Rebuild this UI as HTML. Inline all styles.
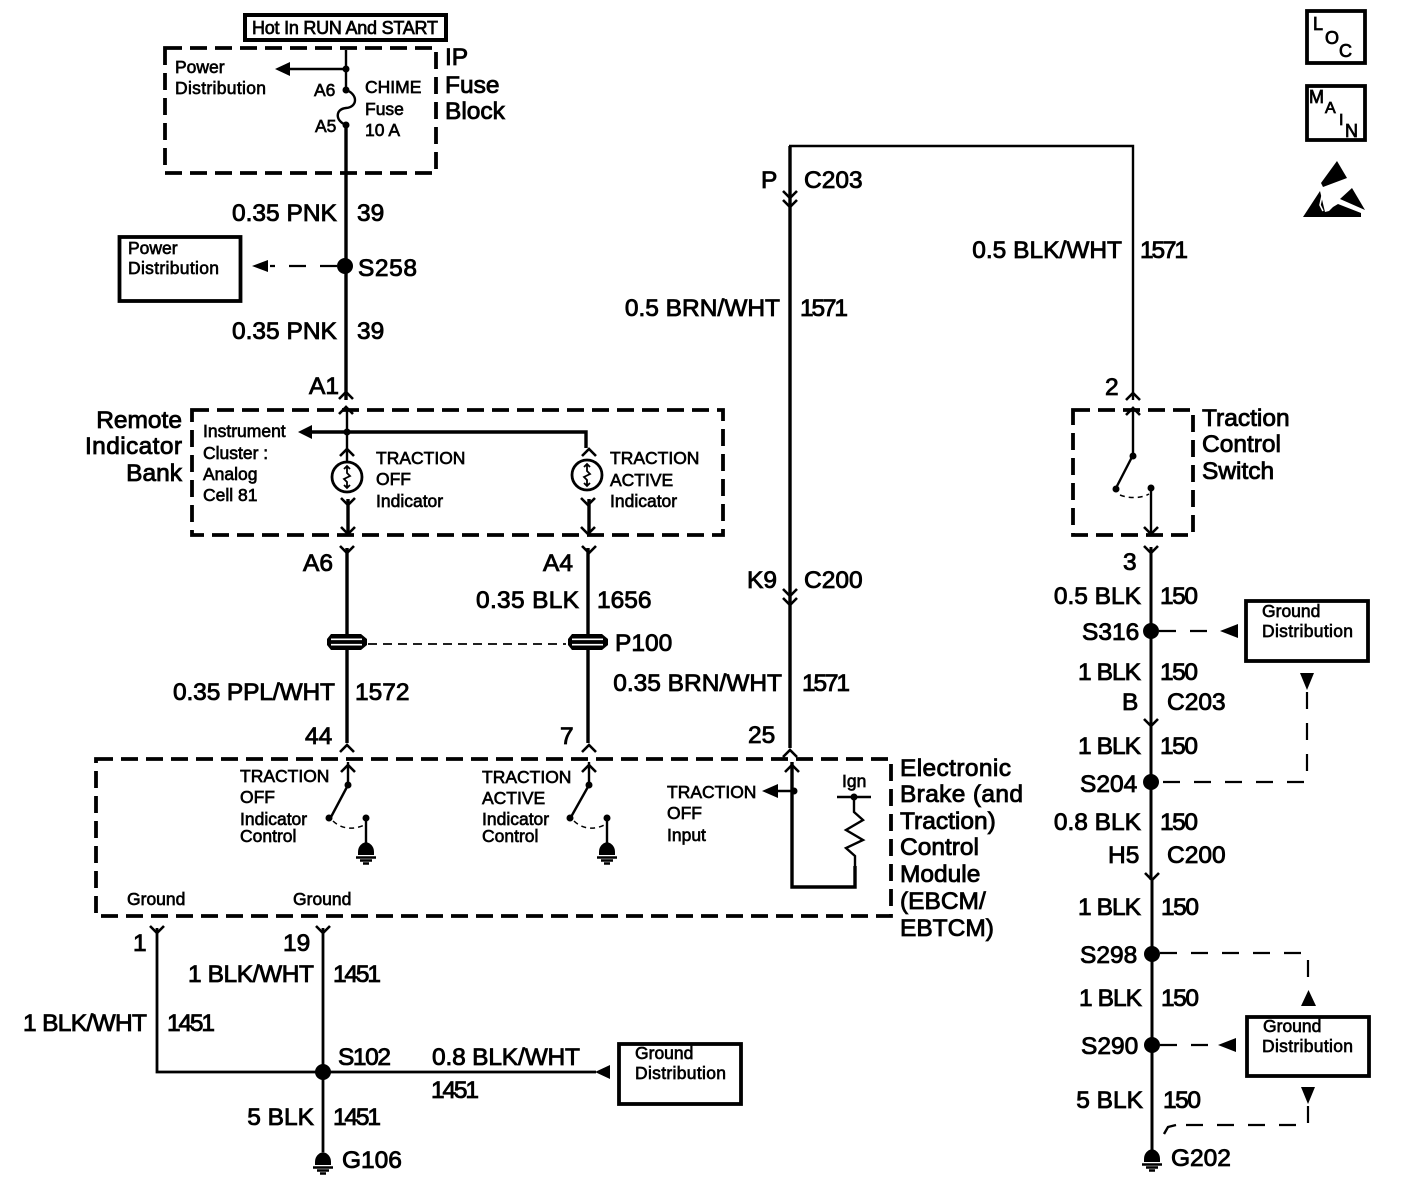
<!DOCTYPE html>
<html><head><meta charset="utf-8"><style>
html,body{margin:0;padding:0;background:#fff}
svg{display:block}
text{font-family:"Liberation Sans",sans-serif;fill:#000}
.L{font-size:24.5px;stroke:#000;stroke-width:.85px}
.S{font-size:17.5px;stroke:#000;stroke-width:.65px}
.R{text-anchor:end}
.w{fill:none;stroke:#000;stroke-width:3.4}
.t{fill:none;stroke:#000;stroke-width:2.4}
.d{fill:none;stroke:#000;stroke-width:3.8;stroke-dasharray:17 8}
.a{fill:none;stroke:#000;stroke-width:2.2;stroke-dasharray:17 14}
.n{fill:none;stroke:#000;stroke-width:1.5;stroke-dasharray:5 4}
.b{fill:#fff;stroke:#000;stroke-width:3.8}
</style></head><body>
<svg width="1408" height="1180" viewBox="0 0 1408 1180" xmlns="http://www.w3.org/2000/svg">
<defs>
<path id="dn" d="M-7,-7 L0,0 L7,-7" fill="none" stroke="#000" stroke-width="2.6"/>
<path id="up" d="M-7,7 L0,0 L7,7" fill="none" stroke="#000" stroke-width="2.6"/>
<g id="gnd"><path d="M-8,0 C-8,-6 -4,-9 0,-10 C4,-9 8,-6 8,0 L8,3 L-8,3Z" fill="#000"/><path d="M-10,5.5H10M-6,8.5H6M-3,11.5H3" stroke="#000" stroke-width="2.4" fill="none"/></g>
<g id="ind"><circle cx="0" cy="0" r="15" fill="none" stroke="#000" stroke-width="2.8"/><path d="M0,-11V-4L3,-1L-3,2L0,5V11M-3,-8L0,-11L3,-8M-3,8L0,11L3,8" fill="none" stroke="#000" stroke-width="1.8"/></g>
<g id="spl"><path d="M-16,-8H14L20,-3V3L14,8H-16L-20,3V-3Z" fill="#000"/><path d="M-16,-2.700H15M-16,2.700H15" stroke="#fff" stroke-width="1.6"/></g>
</defs>

<!-- dashed boxes -->
<rect x="165" y="48" width="271" height="125" class="d"/>
<rect x="192" y="410" width="531" height="125" class="d"/>
<rect x="96" y="759" width="795" height="157" class="d"/>
<rect x="1073" y="410" width="120" height="125" class="d"/>

<!-- hot box -->
<rect x="245" y="15" width="201" height="25" fill="#fff" stroke="#000" stroke-width="4"/>
<text x="252" y="34" style="font-size:18px;stroke:#000;stroke-width:.7px" textLength="186">Hot In RUN And START</text>

<!-- IP fuse block wiring -->
<path class="t" d="M346,50V90"/>
<path d="M346,69H288" class="t"/>
<path d="M275,69L290,62V76Z"/>
<circle cx="346" cy="69" r="3.5"/><circle cx="346" cy="90" r="3.5"/><circle cx="346" cy="125" r="3.5"/>
<path class="t" d="M346,90C358,94 358,107 346,108C335,109 335,121 346,125"/>
<path class="w" d="M346,125V400"/>
<circle cx="345" cy="266" r="8"/>
<path class="a" d="M337,266H270"/>
<path d="M252,266L268,260V272Z"/>
<rect x="119.500" y="237" width="121" height="64" class="b"/>
<use href="#up" x="346" y="392"/>
<use href="#up" x="346" y="407"/>

<!-- remote indicator wiring -->
<path class="t" d="M347,408V462"/>
<path d="M310,432H586V448" fill="none" stroke="#000" stroke-width="3.4"/>
<path d="M298,432L312,425V439Z"/>
<circle cx="347" cy="432" r="3.5"/>
<use href="#up" x="347" y="449"/>
<use href="#up" x="589" y="449"/>
<use href="#ind" x="347" y="477"/>
<use href="#ind" x="587" y="475"/>
<path class="w" d="M348,499V534M589,499V534"/>
<use href="#dn" x="348" y="505"/><use href="#dn" x="588" y="505"/>
<use href="#dn" x="348" y="534"/><use href="#dn" x="588" y="534"/>
<use href="#dn" x="347" y="553"/><use href="#dn" x="589" y="553"/>
<path class="w" d="M347,548V743M588,548V743"/>
<use href="#spl" x="347" y="642"/><use href="#spl" x="588" y="642"/>
<path class="t" style="stroke-width:1.8;stroke-dasharray:9 6" d="M368,644H566"/>
<use href="#up" x="347" y="745"/><use href="#up" x="589" y="745"/>

<!-- EBCM internals -->
<path class="t" d="M348,762V785"/><use href="#up" x="348" y="765"/>
<circle cx="348" cy="785" r="3.5"/>
<path class="t" d="M348,785L331,817"/><circle cx="329" cy="818" r="3.5"/>
<path class="n" d="M333,821C342,830 356,830 366,824"/>
<circle cx="366" cy="818" r="3.5"/>
<path class="t" d="M366,818V845"/><use href="#gnd" x="366" y="852"/>
<path class="t" d="M589,762V785"/><use href="#up" x="589" y="765"/>
<circle cx="589" cy="785" r="3.5"/>
<path class="t" d="M589,785L571,817"/><circle cx="570" cy="818" r="3.5"/>
<path class="n" d="M574,821C583,830 596,830 606,824"/>
<circle cx="607" cy="818" r="3.5"/>
<path class="t" d="M607,818V845"/><use href="#gnd" x="607" y="852"/>

<path class="w" d="M790,146V748"/>
<path class="t" d="M789,146H1133V400"/>
<use href="#up" x="790" y="750"/>
<use href="#dn" x="790" y="198"/><use href="#dn" x="790" y="207"/>
<use href="#dn" x="790" y="596"/><use href="#dn" x="790" y="605"/>
<path class="w" d="M792,762V887H855V866"/>
<use href="#up" x="792" y="765"/>
<circle cx="794" cy="791" r="3.5"/>
<path class="t" d="M792,791H775"/><path d="M762,791L778,784V798Z"/>
<path class="t" d="M837,797H871"/><circle cx="854" cy="797" r="3.500"/>
<path class="t" d="M854,797V812L863,820L846,830L863,840L846,848L855,856V866"/>

<!-- traction switch -->
<use href="#up" x="1133" y="393"/>
<use href="#up" x="1133" y="408"/>
<path class="t" d="M1133,410V455L1116,488"/>
<circle cx="1133" cy="456" r="3.500"/><circle cx="1116" cy="489" r="3.500"/><circle cx="1151" cy="488" r="3.500"/>
<path class="n" d="M1120,495C1130,499 1142,498 1149,494"/>
<path class="t" d="M1151,488V534"/>
<use href="#dn" x="1151" y="534"/>
<use href="#dn" x="1151" y="553"/>

<!-- right ground column -->
<path class="t" d="M1151,547V880M1152,880V1150" style="stroke-width:3"/>
<use href="#dn" x="1151" y="726"/>
<use href="#dn" x="1152" y="880"/>
<circle cx="1151" cy="631" r="8"/><circle cx="1151" cy="782" r="8"/><circle cx="1152" cy="954" r="8"/><circle cx="1152" cy="1045" r="8"/>
<use href="#gnd" x="1152" y="1159"/>
<path class="a" d="M1159,631H1212"/><path d="M1238,624V638L1220,631Z"/>
<rect x="1246" y="601" width="122" height="60" class="b"/>
<path d="M1300,673H1314L1307,690Z"/>
<path class="a" d="M1307,692V782H1160"/>
<path class="a" d="M1160,953H1308V990"/>
<path d="M1301,1006H1316L1308.500,990Z"/>
<rect x="1247" y="1017" width="122" height="59" class="b"/>
<path class="a" d="M1160,1045H1212"/><path d="M1236,1038V1052L1218,1045Z"/>
<path d="M1301,1087H1315L1308,1104Z"/>
<path class="a" d="M1308,1106V1125H1185"/>
<path class="t" d="M1164,1134L1168,1127L1176,1125"/>

<!-- bottom left -->
<use href="#dn" x="157" y="933"/><use href="#dn" x="323" y="933"/>
<path class="t" d="M157,928V1072H596" style="stroke-width:2.8"/>
<path class="w" d="M323,928V1152" style="stroke-width:2.8"/>
<circle cx="323" cy="1072" r="8"/>
<path d="M595,1072L610,1065V1079Z"/>
<rect x="619" y="1044" width="122" height="60" class="b"/>
<use href="#gnd" x="323" y="1162"/>

<!-- icons -->
<rect x="1307" y="11" width="58" height="52" fill="#fff" stroke="#000" stroke-width="3.800"/>
<rect x="1307" y="86" width="58" height="54" fill="#fff" stroke="#000" stroke-width="3.800"/>
<g style="stroke:#000;stroke-width:.8px">
<text x="1313" y="30" style="font-size:18px">L</text><text x="1325" y="44" style="font-size:18px">O</text><text x="1339" y="57" style="font-size:18px">C</text>
<text x="1309" y="103" style="font-size:18px">M</text><text x="1325" y="113" style="font-size:16px">A</text><text x="1339" y="125" style="font-size:16px">I</text><text x="1345" y="137" style="font-size:18px">N</text>
</g>
<path d="M1337,161L1347,178L1323,187L1321,183Z"/>
<path d="M1320,191L1303,217H1361V213L1338,204L1333,207L1329,211L1325,212Z"/>
<path d="M1352,188L1365,210L1340,199Z"/>
<path d="M1322,196L1320,205L1323,211M1326,201L1326,209M1330,201L1330,208" stroke="#fff" stroke-width="1.6" fill="none"/>

<!-- large labels -->
<g class="L">
<text x="445" y="65" class="L">IP</text><text x="445" y="93" class="L">Fuse</text><text x="445" y="119" class="L">Block</text>
<text x="232" y="221" class="L">0.35 PNK</text><text x="357" y="221" class="L">39</text>
<text x="358" y="276" class="L" textLength="59">S258</text>
<text x="232" y="339" class="L">0.35 PNK</text><text x="357" y="339" class="L">39</text>
<text x="309" y="394" class="L">A1</text>
<text x="182" y="428" class="L R">Remote</text><text x="182" y="454" class="L R" textLength="97">Indicator</text><text x="182" y="481" class="L R">Bank</text>
<text x="761" y="188" class="L">P</text><text x="804" y="188" class="L">C203</text>
<text x="1122" y="258" class="L R">0.5 BLK/WHT</text><text x="1140" y="258" class="L" textLength="48">1571</text>
<text x="780" y="316" class="L R">0.5 BRN/WHT</text><text x="800" y="316" class="L" textLength="48">1571</text>
<text x="1105" y="395" class="L">2</text>
<text x="1202" y="426" class="L">Traction</text><text x="1202" y="452" class="L">Control</text><text x="1202" y="479" class="L">Switch</text>
<text x="303" y="571" class="L">A6</text><text x="543" y="571" class="L">A4</text>
<text x="579" y="608" class="L R" textLength="103">0.35 BLK</text><text x="597" y="608" class="L">1656</text>
<text x="615" y="651" class="L">P100</text>
<text x="747" y="588" class="L">K9</text><text x="804" y="588" class="L">C200</text>
<text x="335" y="700" class="L R" textLength="162">0.35 PPL/WHT</text><text x="355" y="700" class="L">1572</text>
<text x="782" y="691" class="L R">0.35 BRN/WHT</text><text x="802" y="691" class="L" textLength="48">1571</text>
<text x="305" y="744" class="L">44</text><text x="560" y="744" class="L">7</text><text x="748" y="743" class="L">25</text>
<text x="1123" y="570" class="L">3</text>
<text x="1141" y="604" class="L R">0.5 BLK</text><text x="1160" y="604" class="L" textLength="38">150</text>
<text x="1082" y="640" class="L">S316</text>
<text x="1141" y="680" class="L R" textLength="63">1 BLK</text><text x="1160" y="680" class="L" textLength="38">150</text>
<text x="1122" y="710" class="L">B</text><text x="1167" y="710" class="L">C203</text>
<text x="1141" y="754" class="L R" textLength="63">1 BLK</text><text x="1160" y="754" class="L" textLength="38">150</text>
<text x="1080" y="792" class="L">S204</text>
<text x="1141" y="830" class="L R">0.8 BLK</text><text x="1160" y="830" class="L" textLength="38">150</text>
<text x="1108" y="863" class="L">H5</text><text x="1167" y="863" class="L">C200</text>
<text x="1141" y="915" class="L R" textLength="63">1 BLK</text><text x="1161" y="915" class="L" textLength="38">150</text>
<text x="1080" y="963" class="L">S298</text>
<text x="1142" y="1006" class="L R" textLength="63">1 BLK</text><text x="1161" y="1006" class="L" textLength="38">150</text>
<text x="1081" y="1054" class="L">S290</text>
<text x="1143" y="1108" class="L R">5 BLK</text><text x="1163" y="1108" class="L" textLength="38">150</text>
<text x="1171" y="1166" class="L">G202</text>
<text x="900" y="776" class="L" textLength="111">Electronic</text><text x="900" y="802" class="L" textLength="123">Brake (and</text><text x="900" y="829" class="L">Traction)</text><text x="900" y="855" class="L">Control</text><text x="900" y="882" class="L">Module</text><text x="900" y="909" class="L">(EBCM/</text><text x="900" y="936" class="L">EBTCM)</text>
<text x="133" y="951" class="L">1</text><text x="283" y="951" class="L">19</text>
<text x="314" y="982" class="L R" textLength="126">1 BLK/WHT</text><text x="333" y="982" class="L" textLength="48">1451</text>
<text x="147" y="1031" class="L R" textLength="124">1 BLK/WHT</text><text x="167" y="1031" class="L" textLength="48">1451</text>
<text x="338" y="1065" class="L" textLength="53">S102</text><text x="432" y="1065" class="L" textLength="148">0.8 BLK/WHT</text><text x="431" y="1098" class="L" textLength="48">1451</text>
<text x="314" y="1125" class="L R">5 BLK</text><text x="333" y="1125" class="L" textLength="48">1451</text>
<text x="342" y="1168" class="L">G106</text>
</g>

<!-- small labels -->
<g class="S">
<text x="175" y="73" class="S">Power</text><text x="175" y="94" class="S" textLength="91">Distribution</text>
<text x="314" y="96" class="S">A6</text><text x="315" y="132" class="S">A5</text>
<text x="365" y="93" class="S">CHIME</text><text x="365" y="115" class="S">Fuse</text><text x="365" y="136" class="S">10 A</text>
<text x="128" y="254" class="S">Power</text><text x="128" y="274" class="S" textLength="91">Distribution</text>
<text x="203" y="437" class="S">Instrument</text><text x="203" y="459" class="S">Cluster :</text><text x="203" y="480" class="S">Analog</text><text x="203" y="501" class="S">Cell 81</text>
<text x="376" y="464" class="S">TRACTION</text><text x="376" y="485" class="S">OFF</text><text x="376" y="507" class="S">Indicator</text>
<text x="610" y="464" class="S">TRACTION</text><text x="610" y="486" class="S">ACTIVE</text><text x="610" y="507" class="S">Indicator</text>
<text x="240" y="782" class="S">TRACTION</text><text x="240" y="803" class="S">OFF</text><text x="240" y="825" class="S">Indicator</text><text x="240" y="842" class="S">Control</text>
<text x="482" y="783" class="S">TRACTION</text><text x="482" y="804" class="S">ACTIVE</text><text x="482" y="825" class="S">Indicator</text><text x="482" y="842" class="S">Control</text>
<text x="667" y="798" class="S">TRACTION</text><text x="667" y="819" class="S">OFF</text><text x="667" y="841" class="S">Input</text>
<text x="842" y="787" class="S">Ign</text>
<text x="127" y="905" class="S">Ground</text><text x="293" y="905" class="S">Ground</text>
<text x="1262" y="617" class="S">Ground</text><text x="1262" y="637" class="S" textLength="91">Distribution</text>
<text x="1263" y="1032" class="S">Ground</text><text x="1262" y="1052" class="S" textLength="91">Distribution</text>
<text x="635" y="1059" class="S">Ground</text><text x="635" y="1079" class="S" textLength="91">Distribution</text>
</g>
</svg>
</body></html>
